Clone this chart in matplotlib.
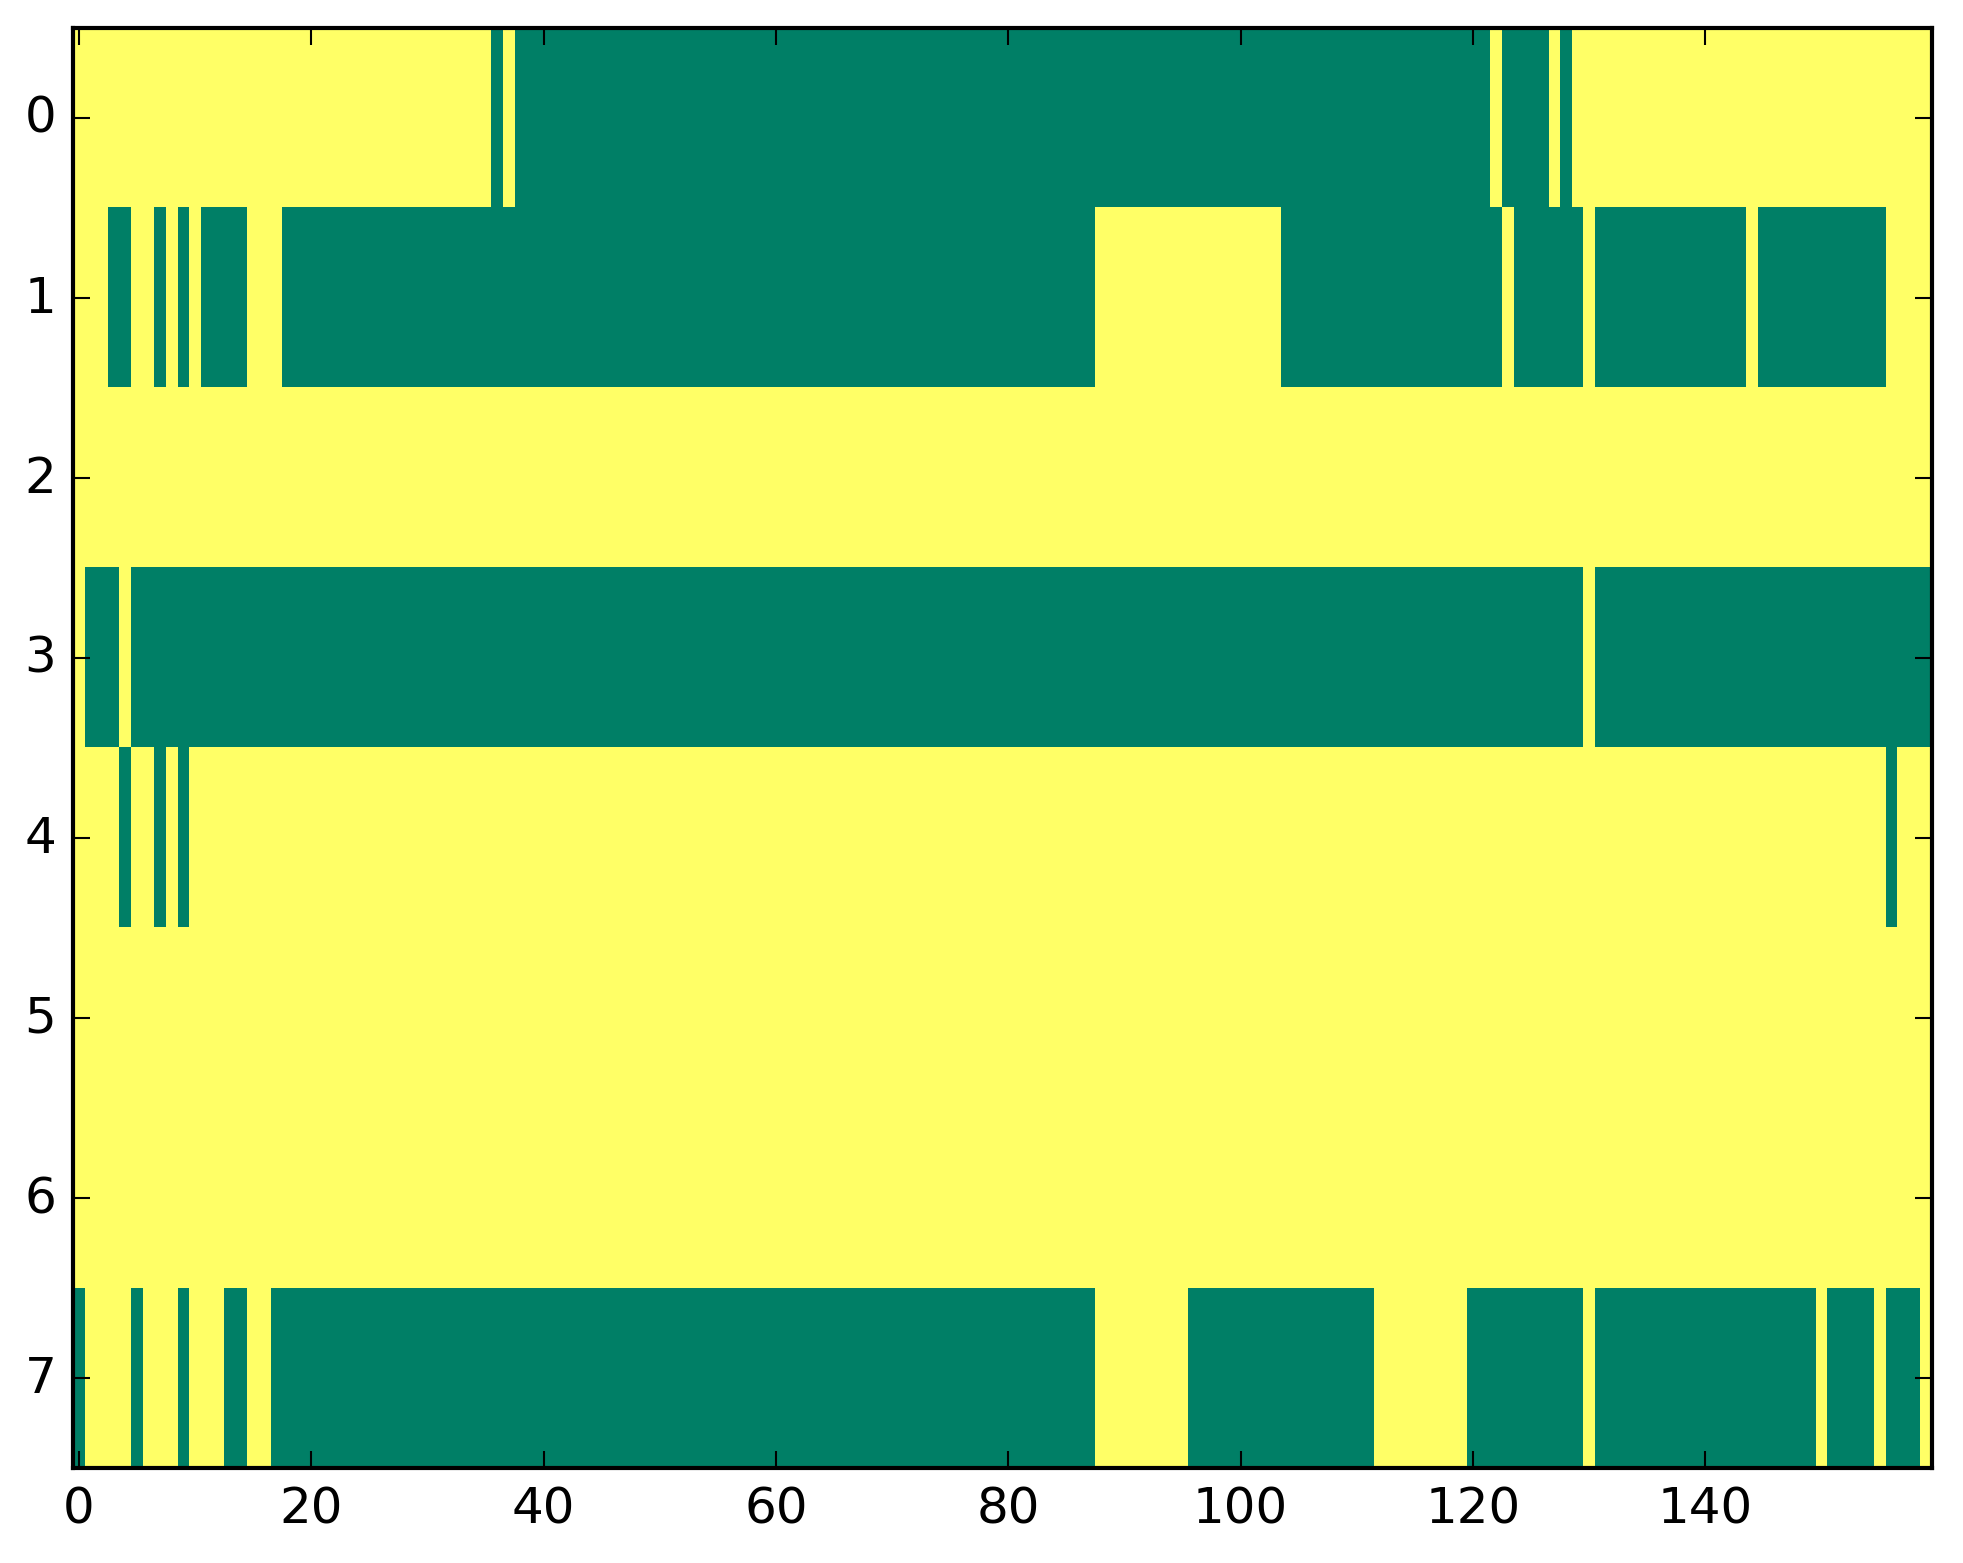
import matplotlib
matplotlib.use("Agg")
import matplotlib.pyplot as plt
import numpy as np

plt.style.use("classic")

n_rows = 8
n_cols = 160

# green (value 0) runs per row, inclusive column ranges; everything else is yellow (1)
row0_green = [(36, 36), (38, 121), (123, 126), (128, 128)]
row1_green = [(3, 4), (7, 7), (9, 9), (11, 14), (18, 87), (104, 122), (124, 129), (131, 143), (145, 155)]
row2_green = []
row3_green = [(1, 3), (5, 129), (131, 159)]
row4_green = [(4, 4), (7, 7), (9, 9), (156, 156)]
row5_green = []
row6_green = []
row7_green = [(0, 0), (5, 5), (9, 9), (13, 14), (17, 87), (96, 111), (120, 129), (131, 149), (151, 154), (156, 158)]

green_runs = [row0_green, row1_green, row2_green, row3_green,
              row4_green, row5_green, row6_green, row7_green]

grid = np.ones((n_rows, n_cols))
for r, runs in enumerate(green_runs):
    for a, b in runs:
        grid[r, a:b + 1] = 0

fig = plt.figure(figsize=(1963 / 300, 1564 / 300), dpi=300, facecolor="white")
ax = fig.add_axes([0.0372, 0.0607, 0.947, 0.9209])

ax.imshow(grid, cmap="summer", interpolation="nearest", aspect="auto", vmin=0, vmax=1)
ax.set_xticks(np.arange(0, 160, 20))
ax.set_yticks(np.arange(0, 8, 1))

fig.savefig("out.png", dpi=300, facecolor="white")
